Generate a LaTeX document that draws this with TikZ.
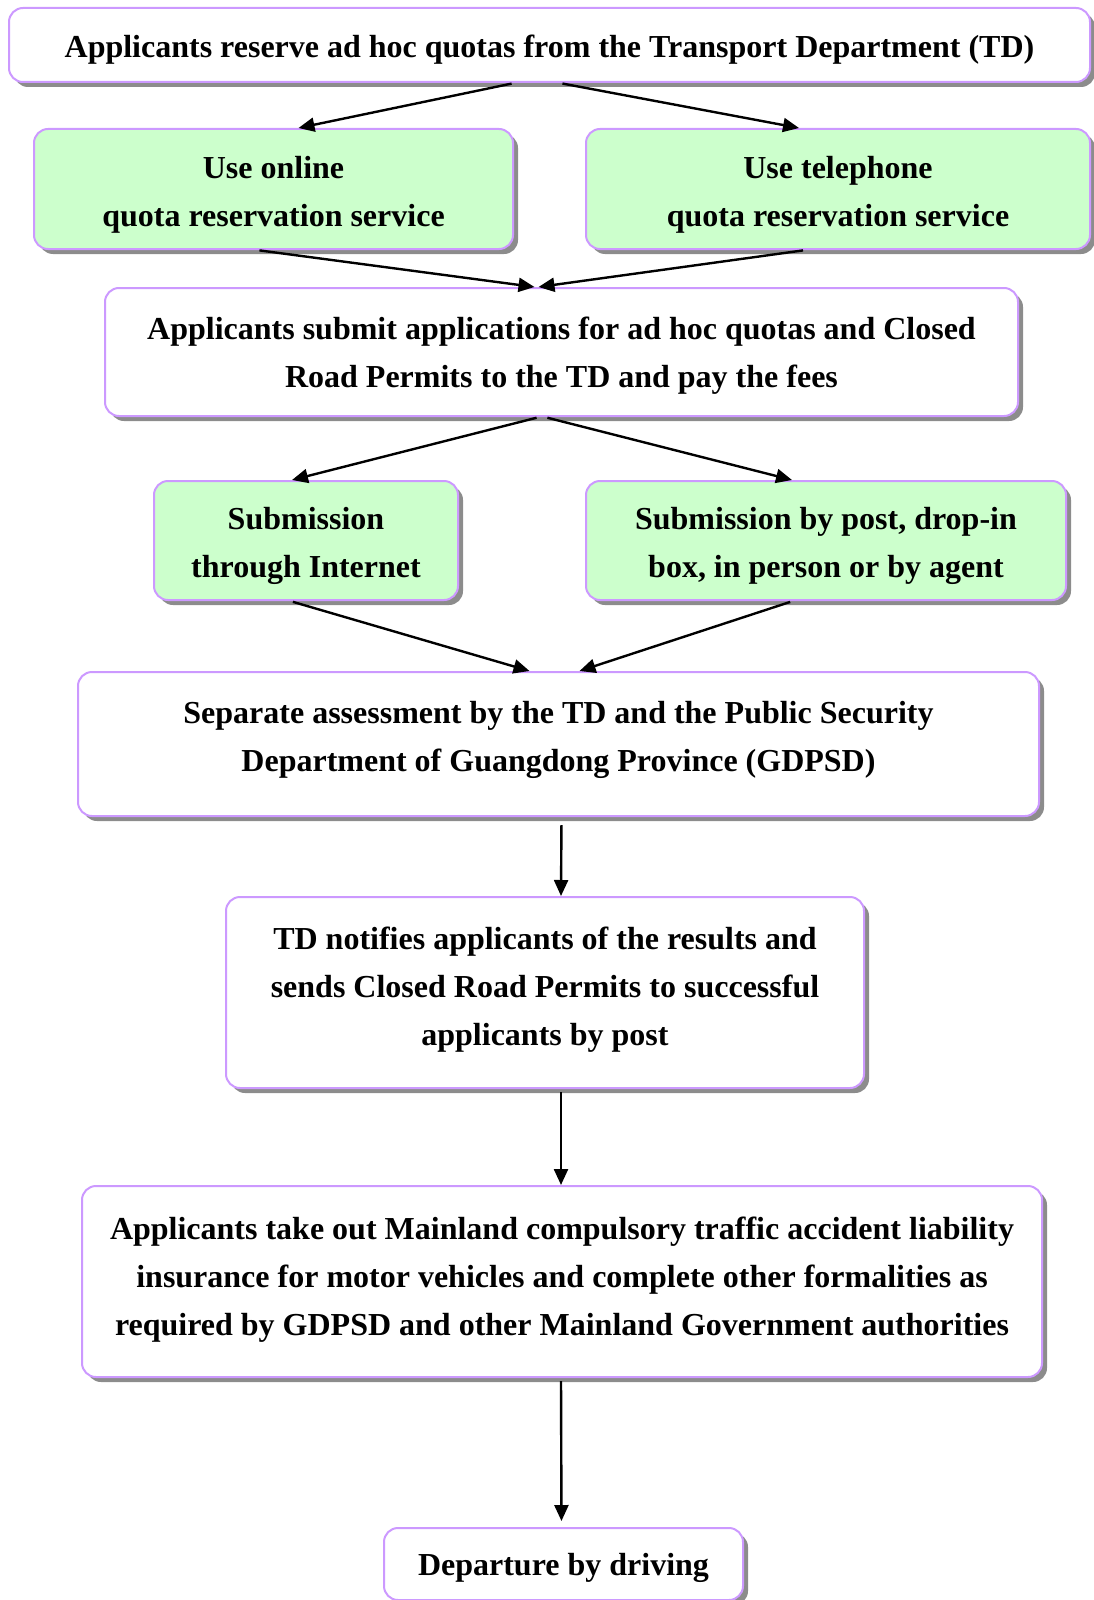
\documentclass[tikz,border=0pt]{standalone}
\usepackage{fontspec}
\setmainfont{Liberation Serif}
\usetikzlibrary{shadows,arrows.meta}

\definecolor{boxline}{RGB}{204,153,255}
\definecolor{boxgreen}{RGB}{204,255,204}

% struts that move the text of a box down (\up) or up (\dn)
\newcommand{\up}[1]{\rule{0pt}{#1}}
\newcommand{\dn}[1]{\rule[-#1]{0pt}{0pt}}

\tikzset{
  stepnode/.style={draw=boxline, line width=2pt, rounded corners=14pt, fill=white,
    align=center, inner sep=0pt, font=\fontsize{32}{48}\selectfont\bfseries,
    drop shadow={shadow xshift=5pt, shadow yshift=-5pt, fill=gray!90, opacity=1}},
  choice/.style={stepnode, fill=boxgreen},
  flow/.style={-{Triangle[length=16pt,width=14pt]}, line width=2.4pt,
    shorten <=3pt}
}

\begin{document}
\begin{tikzpicture}[x=1pt, y=-1pt]
      \useasboundingbox (0, 0) rectangle (1093, 1600);

      % Boxes
      \node[stepnode, minimum width=1081pt, minimum height=74pt] (reserve) at (549.5, 45)
        {\up{32pt}Applicants reserve ad hoc quotas from the Transport Department (TD)};
      \node[choice, minimum width=479pt, minimum height=120pt] (online) at (273.5, 189)
        {\up{34pt}Use online\\quota reservation service};
      \node[choice, minimum width=504pt, minimum height=120pt] (phone) at (838, 189)
        {\up{34pt}Use telephone\\quota reservation service};
      \node[stepnode, minimum width=913pt, minimum height=128pt] (submit) at (561.5, 352)
        {\up{30pt}Applicants submit applications for ad hoc quotas and Closed\\Road Permits to the TD and pay the fees};
      \node[choice, minimum width=304pt, minimum height=119pt] (internet) at (306, 540.5)
        {\up{34pt}Submission\\through Internet};
      \node[choice, minimum width=480pt, minimum height=119pt] (post) at (826, 540.5)
        {\up{34pt}Submission by post, drop-in\\box, in person or by agent};
      \node[stepnode, minimum width=961pt, minimum height=144pt] (assess) at (558.5, 744)
        {Separate assessment by the TD and the Public Security\\Department of Guangdong Province (GDPSD)\dn{15pt}};
      \node[stepnode, minimum width=638pt, minimum height=191pt] (notify) at (545, 992.5)
        {TD notifies applicants of the results and\\sends Closed Road Permits to successful\\applicants by post\dn{13pt}};
      \node[stepnode, minimum width=960pt, minimum height=191pt] (insure) at (562, 1281.5)
        {Applicants take out Mainland compulsory traffic accident liability\\insurance for motor vehicles and complete other formalities as\\required by GDPSD and other Mainland Government authorities\dn{11pt}};
      \node[stepnode, minimum width=359pt, minimum height=72pt] (depart) at (563.5, 1564)
        {\up{30pt}Departure by driving};

      % Arrows
      \draw[flow] ([xshift=-35pt]reserve.south) -- ([xshift=25pt]online.north);
      \draw[flow] ([xshift=10pt]reserve.south) -- ([xshift=-39pt]phone.north);
      \draw[flow] ([xshift=-17pt]online.south) -- ([xshift=-27pt]submit.north);
      \draw[flow] ([xshift=-32pt]phone.south) -- ([xshift=-23pt]submit.north);
      \draw[flow] ([xshift=-22pt]submit.south) -- ([xshift=-14pt]internet.north);
      \draw[flow] ([xshift=-17pt]submit.south) -- ([xshift=-34pt]post.north);
      \draw[flow] ([xshift=-16pt]internet.south) -- ([xshift=-29pt]assess.north);
      \draw[flow] ([xshift=-33pt]post.south) -- ([xshift=21pt]assess.north);
      \draw[flow, shorten <=8pt] ([xshift=3pt]assess.south) -- ([xshift=16pt]notify.north);
      \draw[flow] ([xshift=16pt]notify.south) -- ([xshift=-1pt]insure.north);
      \draw[flow, shorten >=6pt] ([xshift=-1pt]insure.south) -- ([xshift=-2pt]depart.north);
\end{tikzpicture}
\end{document}
